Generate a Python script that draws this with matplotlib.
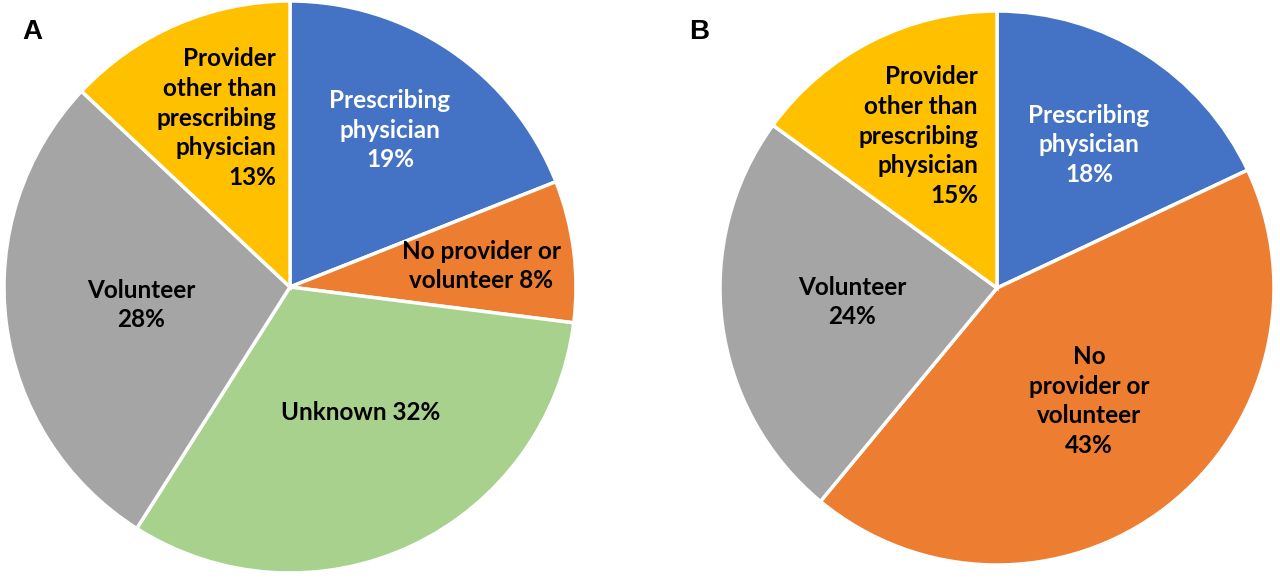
import matplotlib.pyplot as plt

# panel A
labels_a = ["Prescribing\nphysician\n19%", "No provider or\nvolunteer 8%", "Unknown 32%",
            "Volunteer\n28%", "Provider\nother than\nprescribing\nphysician\n13%"]
values_a = [19, 8, 32, 28, 13]
colors_a = ['#4472C4', '#ED7D31', '#A9D18E', '#A5A5A5', '#FFC000']

# panel B
labels_b = ["Prescribing\nphysician\n18%", "No\nprovider or\nvolunteer\n43%",
            "Volunteer\n24%", "Provider\nother than\nprescribing\nphysician\n15%"]
values_b = [18, 43, 24, 15]
colors_b = ['#4472C4', '#ED7D31', '#A5A5A5', '#FFC000']

W, H = 1280, 580


def draw(cx, cy, r, values, colors, labels, spots):
    ax = fig.add_axes([(cx - r) / W, (H - cy - r) / H, 2 * r / W, 2 * r / H])
    ax.pie(values, colors=colors, startangle=90, counterclock=False,
           wedgeprops={'edgecolor': 'white', 'linewidth': 2.5})
    ax.set_xlim(-1, 1)
    ax.set_ylim(-1, 1)
    for lab, col, (px, py, ha) in zip(labels, colors, spots):
        tc = 'white' if col == '#4472C4' else 'black'
        ax.text((px - cx) / r, (cy - py) / r, lab, ha=ha, va='center', multialignment=ha,
                color=tc, fontsize=17.5, fontweight='bold', family='Lato', linespacing=1.36)
    return ax


fig = plt.figure(figsize=(12.8, 5.8), dpi=100)

draw(290, 287, 286, values_a, colors_a, labels_a,
     [(390, 130, 'center'), (481, 266, 'center'), (361, 412, 'center'),
      (141, 305, 'center'), (276, 118, 'right')])
draw(997, 288, 277, values_b, colors_b, labels_b,
     [(1089, 145, 'center'), (1089, 401, 'center'), (852, 302, 'center'),
      (978, 136, 'right')])

fig.text(32 / W, 1 - 32 / H, 'A', ha='center', va='center', fontsize=20,
         fontweight='bold', family='Liberation Sans')
fig.text(699 / W, 1 - 32 / H, 'B', ha='center', va='center', fontsize=20,
         fontweight='bold', family='Liberation Sans')

fig.savefig('out.png', dpi=100)
